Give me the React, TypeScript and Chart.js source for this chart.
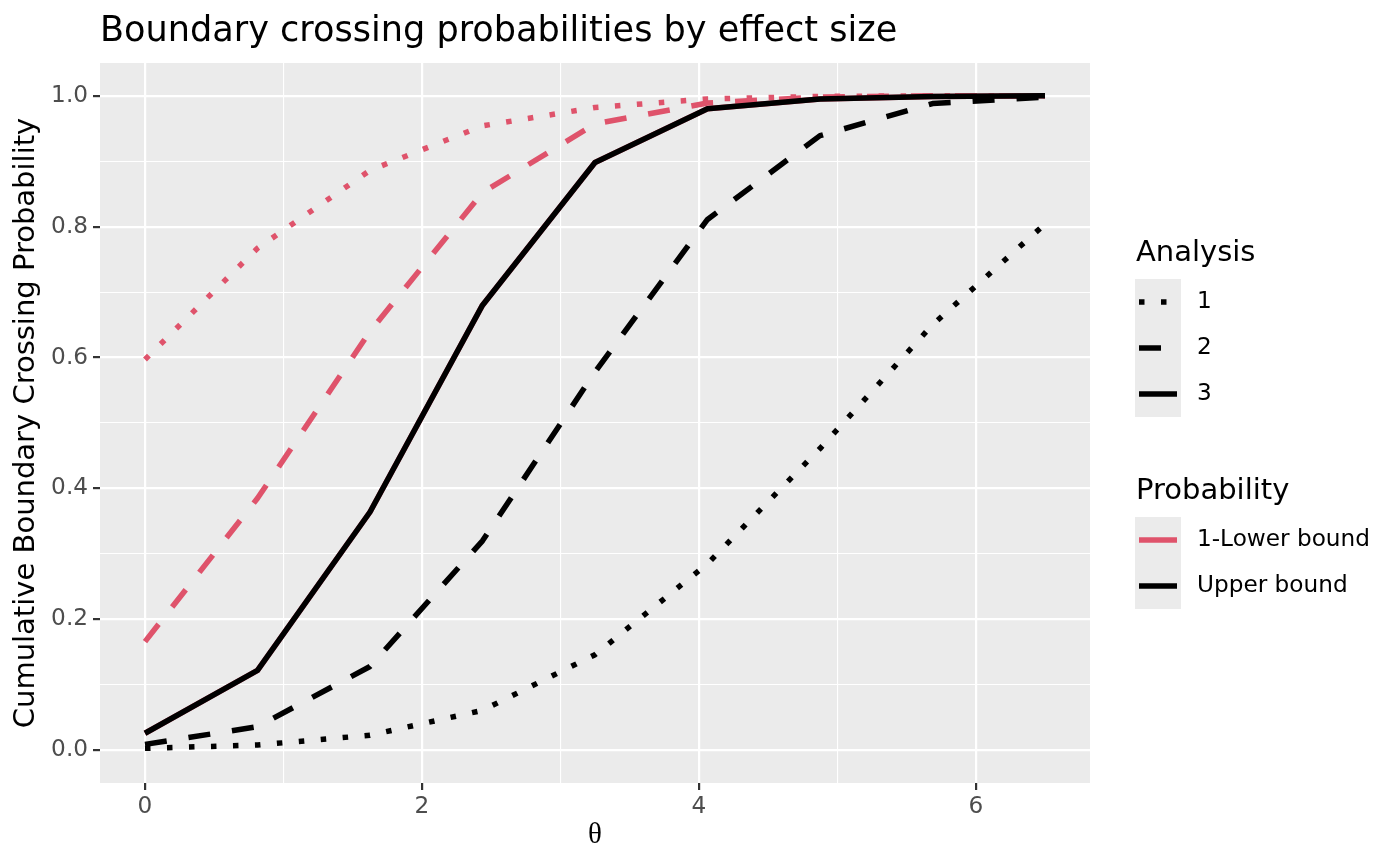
import React, { useRef, useEffect } from "react";
import { Chart, registerables } from "chart.js";

Chart.register(...registerables);

// effect size grid
const theta = [0, 0.8125, 1.625, 2.4375, 3.25, 4.0625, 4.875, 5.6875, 6.5];

// upper bound crossing, by analysis
const upper1 = [0.003, 0.008, 0.023, 0.061, 0.146, 0.285, 0.461, 0.65, 0.804];
const upper2 = [0.009, 0.036, 0.128, 0.32, 0.578, 0.811, 0.939, 0.988, 0.998];
const upper3 = [0.026, 0.122, 0.364, 0.68, 0.898, 0.98, 0.995, 0.999, 1.0];

// 1 - lower bound crossing, by analysis
const lower1 = [0.597, 0.767, 0.886, 0.954, 0.982, 0.995, 0.999, 1.0, 1.0];
const lower2 = [0.166, 0.385, 0.64, 0.852, 0.957, 0.989, 0.998, 1.0, 1.0];
const lower3 = [0.026, 0.122, 0.364, 0.68, 0.898, 0.98, 0.995, 0.999, 1.0];

const analysisLabels = ["1", "2", "3"];
const probabilityLabels = ["1-Lower bound", "Upper bound"];
const probabilityColors = ["#DF536B", "#000000"];

// grid positions (major + minor)
const xGrid = [0, 1, 2, 3, 4, 5, 6];
const yGrid = [0, 0.1, 0.2, 0.3, 0.4, 0.5, 0.6, 0.7, 0.8, 0.9, 1.0];

const LW = 5.5;
const analysisDash = [[LW, LW * 3], [LW * 4, LW * 4], []];

const SANS = '"DejaVu Sans", sans-serif';
const PANEL = "#EBEBEB";
const TICK_FONT = 23.2;
const AXIS_FONT = 29;

const isMajorX = (v: number) => Math.abs(v % 2) < 1e-9;
const isMajorY = (v: number) => Math.round(v * 10) % 2 === 0;

const panelBg = {
  id: "panelBg",
  beforeDraw(chart: any) {
    const { ctx, chartArea: a } = chart;
    ctx.save();
    ctx.fillStyle = PANEL;
    ctx.fillRect(a.left, a.top, a.right - a.left, a.bottom - a.top);
    ctx.restore();
  },
};

const titleAndLegends = {
  id: "titleAndLegends",
  afterDraw(chart: any) {
    const { ctx } = chart;
    ctx.save();
    ctx.fillStyle = "#000";
    ctx.textAlign = "left";
    ctx.textBaseline = "alphabetic";
    ctx.font = `35.1px ${SANS}`;
    ctx.fillText("Boundary crossing probabilities by effect size", 100, 41);

    const keyX = 1135, keyW = 46, keyH = 46, textX = 1197;

    const drawKey = (y: number, color: string, dash: number[]) => {
      ctx.fillStyle = PANEL;
      ctx.fillRect(keyX, y, keyW, keyH);
      ctx.strokeStyle = color;
      ctx.lineWidth = LW;
      ctx.lineCap = "butt";
      ctx.setLineDash(dash);
      ctx.beginPath();
      ctx.moveTo(keyX + 4, y + keyH / 2);
      ctx.lineTo(keyX + keyW - 4, y + keyH / 2);
      ctx.stroke();
      ctx.setLineDash([]);
    };

    const drawLabel = (lab: string, y: number) => {
      ctx.fillStyle = "#000";
      ctx.font = `${TICK_FONT}px ${SANS}`;
      ctx.textBaseline = "middle";
      ctx.fillText(lab, textX, y);
      ctx.textBaseline = "alphabetic";
    };

    // Analysis legend
    ctx.fillStyle = "#000";
    ctx.font = `${AXIS_FONT}px ${SANS}`;
    ctx.fillText("Analysis", 1136, 261);
    analysisLabels.forEach((lab, i) => {
      const y = 279 + i * keyH;
      drawKey(y, "#000000", analysisDash[i]);
      drawLabel(lab, y + keyH / 2);
    });

    // Probability legend
    ctx.fillStyle = "#000";
    ctx.font = `${AXIS_FONT}px ${SANS}`;
    ctx.fillText("Probability", 1136, 499);
    probabilityLabels.forEach((lab, i) => {
      const y = 517 + i * keyH;
      drawKey(y, probabilityColors[i], []);
      drawLabel(lab, y + keyH / 2);
    });
    ctx.restore();
  },
};

const App: React.FC = () => {
  const canvasRef = useRef<HTMLCanvasElement | null>(null);
  const chartRef = useRef<Chart | null>(null);

  useEffect(() => {
    if (!canvasRef.current) return;
    const series = [
      [lower1, lower2, lower3],
      [upper1, upper2, upper3],
    ];
    const datasets: any[] = [];
    series.forEach((group, p) => {
      group.forEach((vals, a) => {
        datasets.push({
          label: `${probabilityLabels[p]} ${analysisLabels[a]}`,
          data: theta.map((x, i) => ({ x, y: vals[i] })),
          borderColor: probabilityColors[p],
          borderWidth: LW,
          borderDash: analysisDash[a],
          borderCapStyle: "butt",
          borderJoinStyle: "round",
          pointRadius: 0,
          tension: 0,
          fill: false,
          order: p === 1 ? 0 : 1,
        });
      });
    });

    chartRef.current = new Chart(canvasRef.current, {
      type: "line",
      data: { datasets },
      plugins: [panelBg, titleAndLegends],
      options: {
        animation: false,
        responsive: true,
        maintainAspectRatio: false,
        layout: { padding: { top: 63, right: 310, left: 0, bottom: 0 } },
        plugins: {
          legend: { display: false },
          title: { display: false },
          tooltip: { enabled: false },
        },
        scales: {
          x: {
            type: "linear",
            min: -0.325,
            max: 6.825,
            afterBuildTicks: (scale: any) => {
              scale.ticks = xGrid.map((value) => ({ value }));
            },
            afterFit: (scale: any) => {
              scale.height = 83;
            },
            border: { display: false },
            grid: {
              color: "#FFFFFF",
              lineWidth: (c: any) => (isMajorX(c.tick.value) ? 2.2 : 1.1),
              tickColor: (c: any) => (isMajorX(c.tick.value) ? "#333333" : "rgba(0,0,0,0)"),
              tickLength: 7,
              tickWidth: 2.2,
            },
            ticks: {
              autoSkip: false,
              maxRotation: 0,
              padding: 3,
              color: "#4D4D4D",
              font: { family: SANS, size: TICK_FONT },
              callback: (v: any) => (isMajorX(Number(v)) ? String(v) : ""),
            },
            title: {
              display: true,
              text: "θ",
              color: "#000",
              font: { family: '"Liberation Serif", serif', size: AXIS_FONT },
              padding: { top: 0, bottom: 13 },
            },
          },
          y: {
            type: "linear",
            min: -0.05,
            max: 1.05,
            afterBuildTicks: (scale: any) => {
              scale.ticks = yGrid.map((value) => ({ value }));
            },
            afterFit: (scale: any) => {
              scale.width = 100;
            },
            border: { display: false },
            grid: {
              color: "#FFFFFF",
              lineWidth: (c: any) => (isMajorY(c.tick.value) ? 2.2 : 1.1),
              tickColor: (c: any) => (isMajorY(c.tick.value) ? "#333333" : "rgba(0,0,0,0)"),
              tickLength: 7,
              tickWidth: 2.2,
            },
            ticks: {
              autoSkip: false,
              padding: 5,
              color: "#4D4D4D",
              font: { family: SANS, size: TICK_FONT },
              callback: (v: any) => {
                const k = Math.round(Number(v) * 10);
                return k % 2 === 0 ? (k / 10).toFixed(1) : "";
              },
            },
            title: {
              display: true,
              text: "Cumulative Boundary Crossing Probability",
              color: "#000",
              font: { family: SANS, size: AXIS_FONT },
              padding: { top: 9, bottom: 0 },
            },
          },
        },
      },
    });

    return () => {
      chartRef.current?.destroy();
    };
  }, []);

  return (
    <div style={{ position: "fixed", left: 0, top: 0, width: 1400, height: 866, background: "#FFFFFF" }}>
      <canvas ref={canvasRef}></canvas>
    </div>
  );
};

export default App;
